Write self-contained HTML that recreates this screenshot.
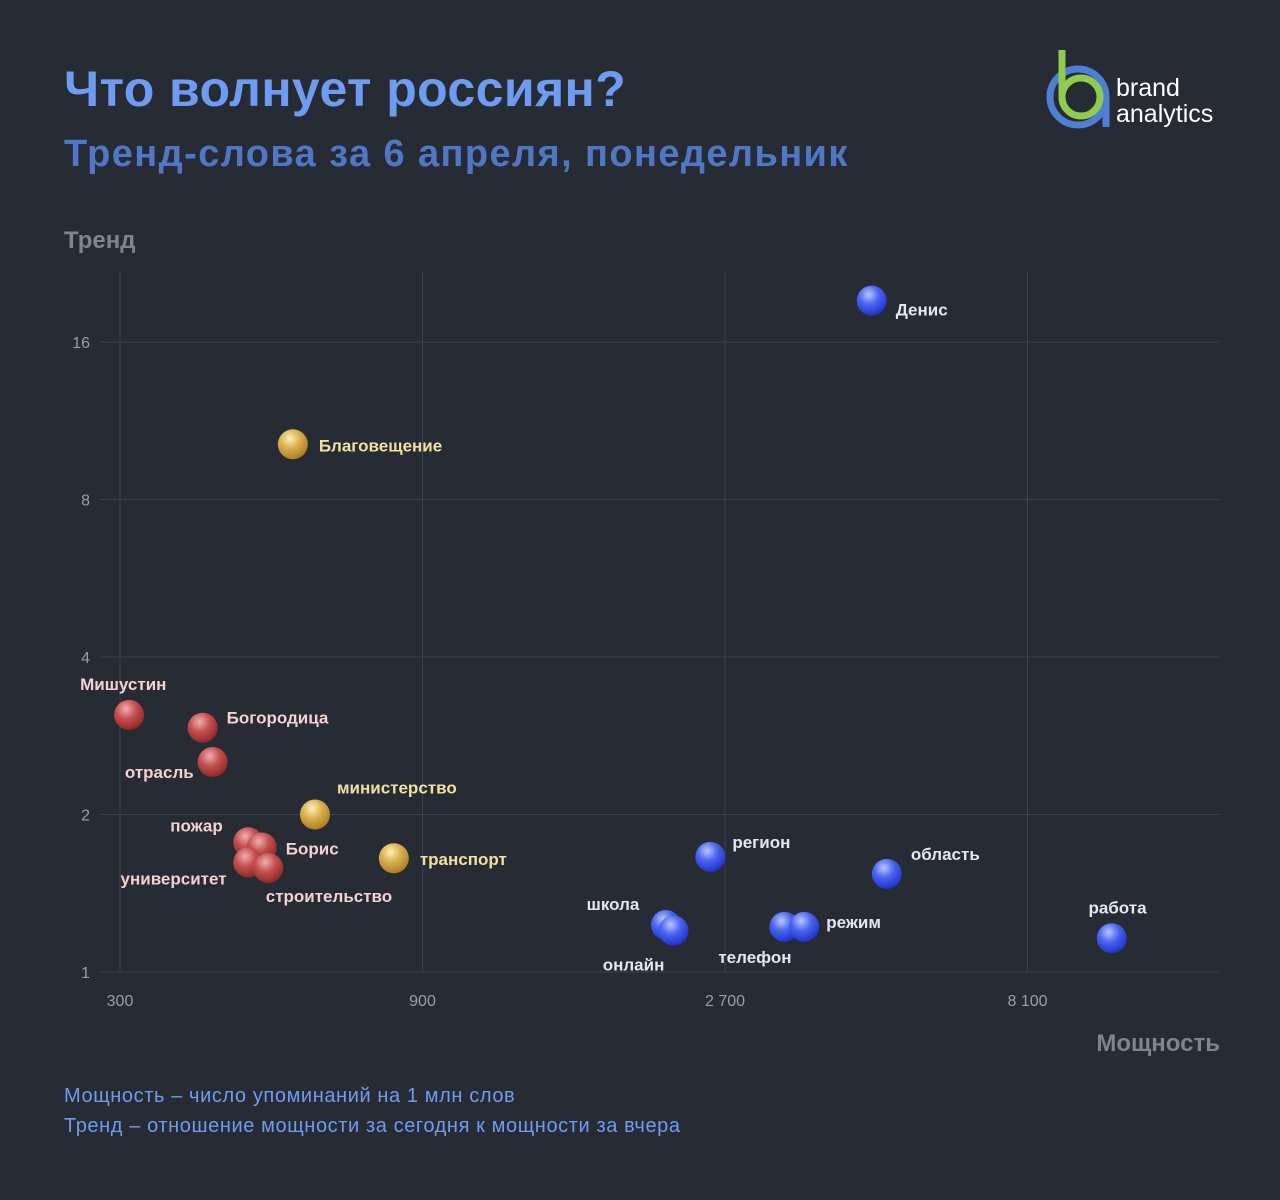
<!DOCTYPE html>
<html><head><meta charset="utf-8"><style>
html,body{margin:0;padding:0;background:#272b34;}
body{width:1280px;height:1200px;position:relative;overflow:hidden;font-family:"Liberation Sans","DejaVu Sans",sans-serif;}
.t{position:absolute;white-space:nowrap;}
</style></head><body>
<div class="t" style="left:64px;top:60px;font-size:50px;font-weight:bold;color:#6e9cf2;letter-spacing:0.4px;">Что волнует россиян?</div>
<div class="t" style="left:64px;top:133px;font-size:38px;font-weight:bold;color:#4f77c6;letter-spacing:1.4px;">Тренд-слова за 6 апреля, понедельник</div>
<svg style="position:absolute;left:1040px;top:44px" width="190" height="90">
 <circle cx="38" cy="53" r="28" fill="none" stroke="#4e7fd3" stroke-width="7"/>
 <line x1="66" y1="53" x2="66" y2="83" stroke="#4e7fd3" stroke-width="7"/>
 <line x1="22" y1="6" x2="22" y2="53" stroke="#8fcb4f" stroke-width="7"/>
 <circle cx="41" cy="53" r="19" fill="none" stroke="#8fcb4f" stroke-width="7"/>
 <text x="76" y="52" font-size="25" fill="#fff" font-family="Liberation Sans,sans-serif">brand</text>
 <text x="76" y="78" font-size="25" fill="#fff" font-family="Liberation Sans,sans-serif">analytics</text>
</svg>
<div class="t" style="left:64px;top:227px;font-size:24px;font-weight:bold;color:#80848d;">Тренд</div>
<div class="t" style="right:60px;top:1030px;font-size:24px;font-weight:bold;color:#80848d;">Мощность</div>
<div class="t" style="left:64px;top:1085px;font-size:20px;color:#6e9cf2;letter-spacing:0.6px;">Мощность – число упоминаний на 1 млн слов</div>
<div class="t" style="left:64px;top:1115px;font-size:20px;color:#6e9cf2;letter-spacing:0.6px;">Тренд – отношение мощности за сегодня к мощности за вчера</div>
<svg id="chart" style="position:absolute;left:0;top:0" width="1280" height="1200">
<defs>
 <radialGradient id="gb" cx="0.4" cy="0.3" r="0.75"><stop offset="0" stop-color="#b9c8ff"/><stop offset="0.45" stop-color="#4a63f0"/><stop offset="1" stop-color="#1a2fc4"/></radialGradient>
 <radialGradient id="gr" cx="0.4" cy="0.3" r="0.75"><stop offset="0" stop-color="#f0b0b0"/><stop offset="0.45" stop-color="#c3504f"/><stop offset="1" stop-color="#8a2424"/></radialGradient>
 <radialGradient id="gy" cx="0.4" cy="0.3" r="0.75"><stop offset="0" stop-color="#fff0b8"/><stop offset="0.45" stop-color="#d8b04e"/><stop offset="1" stop-color="#a77a1c"/></radialGradient>
</defs>
</svg>
<script>
const words=["Денис","Благовещение","Мишустин","Богородица","отрасль","министерство","пожар","Борис","университет","строительство","транспорт","регион","область","школа","онлайн","телефон","режим","работа"];
const power=[4600,562,310,405,420,609,478,502,478,514,811,2560,4860,2178,2240,3350,3600,11000];
const trend=[19.2,10.2,3.1,2.93,2.52,2.0,1.77,1.73,1.62,1.58,1.65,1.66,1.54,1.23,1.2,1.22,1.22,1.16];
const group=["b","y","r","r","r","y","r","r","r","r","y","b","b","b","b","b","b","b"];
const xTicks=[300,900,2700,8100];
const xTickLabels=["300","900","2 700","8 100"];
const yTicks=[1,2,4,8,16];
const labelDx=[24,26,-45,24,-91,22,-77,24,-135,-10,26,22,24,-78,-71,-65,22,-27];
const labelDy=[14,6,-26,-5,15,-22,-12,6,21,33,6,-10,-15,-16,39,35,0,-26];
const svg=document.getElementById('chart');
const NS='http://www.w3.org/2000/svg';
function xs(v){return 120+302.5*Math.log(v/300)/Math.log(3);}
function ys(v){return 972-157.5*Math.log2(v);}
function el(t,a){const e=document.createElementNS(NS,t);for(const k in a)e.setAttribute(k,a[k]);svg.appendChild(e);return e;}
const L=100,R=1219;
yTicks.forEach(v=>{
 const g=el('line',{x1:L,x2:R,y1:ys(v),y2:ys(v),stroke:'#3d424c','stroke-width':1});
 
 
 const t=el('text',{x:90,y:ys(v)+6,'text-anchor':'end','font-size':16,fill:'#9a9ea6'});
 t.textContent=v;
 
 
});
xTicks.forEach((v,i)=>{
 const g=el('line',{x1:xs(v),x2:xs(v),y1:272,y2:972,stroke:'#3d424c','stroke-width':1});
 
 
 const t=el('text',{x:xs(v),y:1006,'text-anchor':'middle','font-size':16,fill:'#9a9ea6'});
 t.textContent=xTickLabels[i];
 
 
});
const fills={b:'url(#gb)',r:'url(#gr)',y:'url(#gy)'};
const lc={b:'#e3e7f3',r:'#f4d2d0',y:'#f0e0a2'};
words.forEach((w,i)=>{
 const cx=xs(power[i]),cy=ys(trend[i]);
 const c=el('circle',{cx:cx,cy:cy,r:15,fill:fills[group[i]]});
 
 
 const anchor=labelDx[i]<0?'end':'start';
 const tx=labelDx[i]<0?cx+labelDx[i]+ (w.length*10.3):cx+labelDx[i];
 const t=el('text',{x:tx,y:cy+labelDy[i]+1,'font-size':17,'font-weight':'bold',fill:lc[group[i]],'text-anchor':anchor});
 t.textContent=w;
 
 
});
</script>
</body></html>
